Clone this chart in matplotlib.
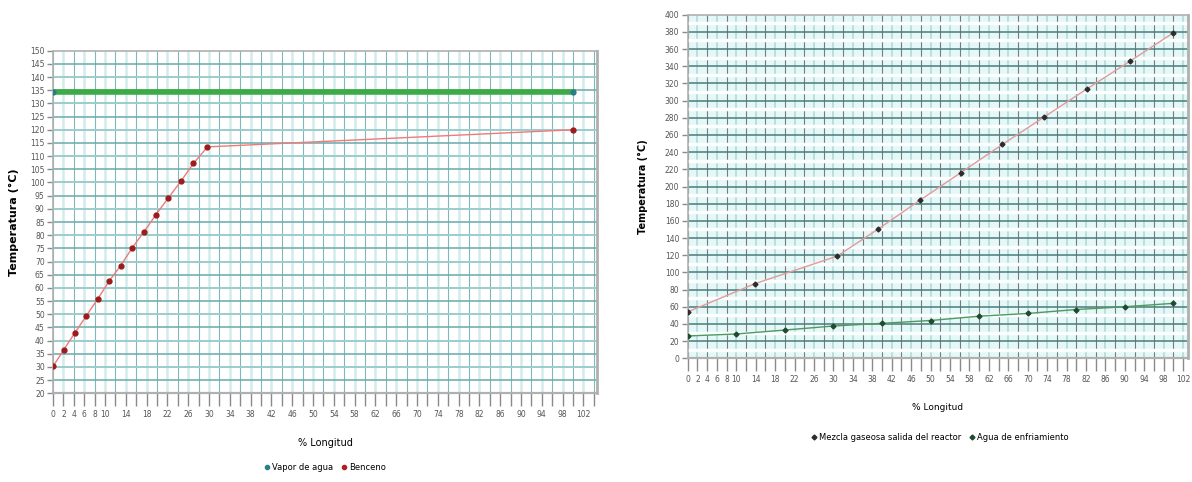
import numpy as np
import matplotlib.pyplot as plt
from matplotlib.lines import Line2D

plt.rcParams['font.family'] = ['Liberation Sans Narrow', 'DejaVu Sans']

# left chart: benzene / steam
x_benceno = [0, 2.1, 4.2, 6.4, 8.6, 10.8, 13.0, 15.2, 17.5, 19.8, 22.2, 24.6, 27.0, 29.7, 100]
y_benceno = [30.2, 36.6, 42.9, 49.4, 55.8, 62.6, 68.4, 75.1, 81.3, 87.8, 94.2, 100.5, 107.2, 113.5, 120.0]
x_vapor = [0, 100]
y_vapor = [134.5, 134.5]

# right chart: reactor gas / cooling water
x_mezcla = [0, 13.9, 30.8, 39.1, 47.8, 56.2, 64.8, 73.4, 82.3, 91.1, 100]
y_mezcla = [54, 87, 119, 150, 184, 216, 249, 281, 314, 346, 379]
x_agua = [0, 10, 20, 30, 40, 50, 60, 70, 80, 90, 100]
y_agua = [26, 28.3, 32.9, 37.6, 40.7, 44.0, 49.0, 52.2, 56.8, 60.0, 64.0]

x_labels = [0, 2, 4, 6, 8, 10, 14, 18, 22, 26, 30, 34, 38, 42, 46, 50, 54, 58,
            62, 66, 70, 74, 78, 82, 86, 90, 94, 98, 102]

W, H = 1192, 482
fig = plt.figure(figsize=(W / 100, H / 100), dpi=100)


def box(x0, y0, x1, y1):
    return [x0 / W, 1 - y1 / H, (x1 - x0) / W, (y1 - y0) / H]


def style_axes(ax, xmax, ymin, ymax, ystep):
    ticks = list(range(0, int(xmax) + 1, 2))
    ax.set_xlim(0, xmax)
    ax.set_ylim(ymin, ymax)
    ax.set_xticks(ticks)
    ax.set_xticklabels([str(v) if v in x_labels else '' for v in ticks])
    ax.set_yticks(range(ymin, ymax + 1, ystep))
    ax.tick_params(axis='x', length=9, width=1, color='#8a8a8a', labelsize=5.5,
                   labelcolor='#555555', pad=3)
    ax.tick_params(axis='y', length=4, width=1, color='#8a8a8a', labelsize=5.5,
                   labelcolor='#555555', pad=2)
    for s in ax.spines.values():
        s.set_color('#b0b0b0')
        s.set_linewidth(1.2)
    ax.spines['right'].set_linewidth(2)
    ax.spines['bottom'].set_linewidth(1.6)


# ---- left chart ----
ax1 = fig.add_axes(box(53, 50.7, 597, 393.3))
style_axes(ax1, 104.6, 20, 150, 5)
for i, v in enumerate(range(0, 105, 2)):
    if i % 2 == 0:
        ax1.axvline(v, color='#7fb8b8', lw=0.8, zorder=0)
    else:
        ax1.axvline(v, color='#d2ebeb', lw=1.8, zorder=0)
for i, v in enumerate(range(25, 150, 5)):
    if i % 2 == 0:
        ax1.axhline(v, color='#6aaaaa', lw=1.1, zorder=0)
    else:
        ax1.axhline(v, color='#9ccccc', lw=1.4, zorder=0)

ax1.plot(x_vapor, y_vapor, color='#3daa48', lw=4, zorder=3)
ax1.plot(x_vapor, y_vapor, ls='none', marker='o', ms=3.5, color='#2a7f86', zorder=4)
ax1.plot(x_benceno, y_benceno, color='#f07a7a', lw=1.0, zorder=3)
ax1.plot(x_benceno, y_benceno, ls='none', marker='o', ms=3.5, color='#9c1c1c', zorder=4)

ax1.set_ylabel('Temperatura (°C)', fontsize=8, fontweight='bold', labelpad=8)
ax1.set_xlabel('% Longitud', fontsize=7, labelpad=14)

h1 = [Line2D([], [], ls='none', marker='o', ms=3, color='#2a7f86'),
      Line2D([], [], ls='none', marker='o', ms=3, color='#b02020')]
fig.legend(h1, ['Vapor de agua', 'Benceno'], loc='center', ncol=2,
           bbox_to_anchor=(325 / W, 1 - 467 / H), frameon=False, fontsize=6,
           handlelength=0.6, handletextpad=0.3, columnspacing=1.0)

# ---- right chart ----
ax2 = fig.add_axes(box(687.7, 14.7, 1188, 358.3))
style_axes(ax2, 103, 0, 400, 20)
ax2.set_facecolor('#e6f7f7')
for i, v in enumerate(range(0, 104, 2)):
    if i % 2 == 0:
        ax2.axvline(v, color='#6f7f7f', lw=0.8, zorder=0)
    else:
        ax2.axvline(v, color='#b3d9d9', lw=1.2, zorder=0)
for v in range(10, 400, 20):
    ax2.axhline(v, color='#fbffff', lw=2.5, zorder=0)
for v in range(20, 400, 20):
    ax2.axhline(v, color='#4a7a7a', lw=1.1, zorder=0)

ax2.plot(x_mezcla, y_mezcla, color='#e59a9a', lw=1.0, zorder=3)
ax2.plot(x_mezcla, y_mezcla, ls='none', marker='D', ms=2.5, color='#2c2c2c', zorder=4)
ax2.plot(x_agua, y_agua, color='#4f9a60', lw=1.0, zorder=3)
ax2.plot(x_agua, y_agua, ls='none', marker='D', ms=2.5, color='#1f4a30', zorder=4)

ax2.set_ylabel('Temperatura (°C)', fontsize=7, fontweight='bold', labelpad=12)
ax2.set_xlabel('% Longitud', fontsize=6.5, labelpad=14)

h2 = [Line2D([], [], ls='none', marker='D', ms=2.5, color='#2c2c2c'),
      Line2D([], [], ls='none', marker='D', ms=2.5, color='#1f4a30')]
fig.legend(h2, ['Mezcla gaseosa salida del reactor', 'Agua de enfriamiento'],
           loc='center', ncol=2, bbox_to_anchor=(940 / W, 1 - 437 / H),
           frameon=False, fontsize=6, handlelength=0.6, handletextpad=0.3,
           columnspacing=1.0)

fig.savefig('out.png', dpi=100)
